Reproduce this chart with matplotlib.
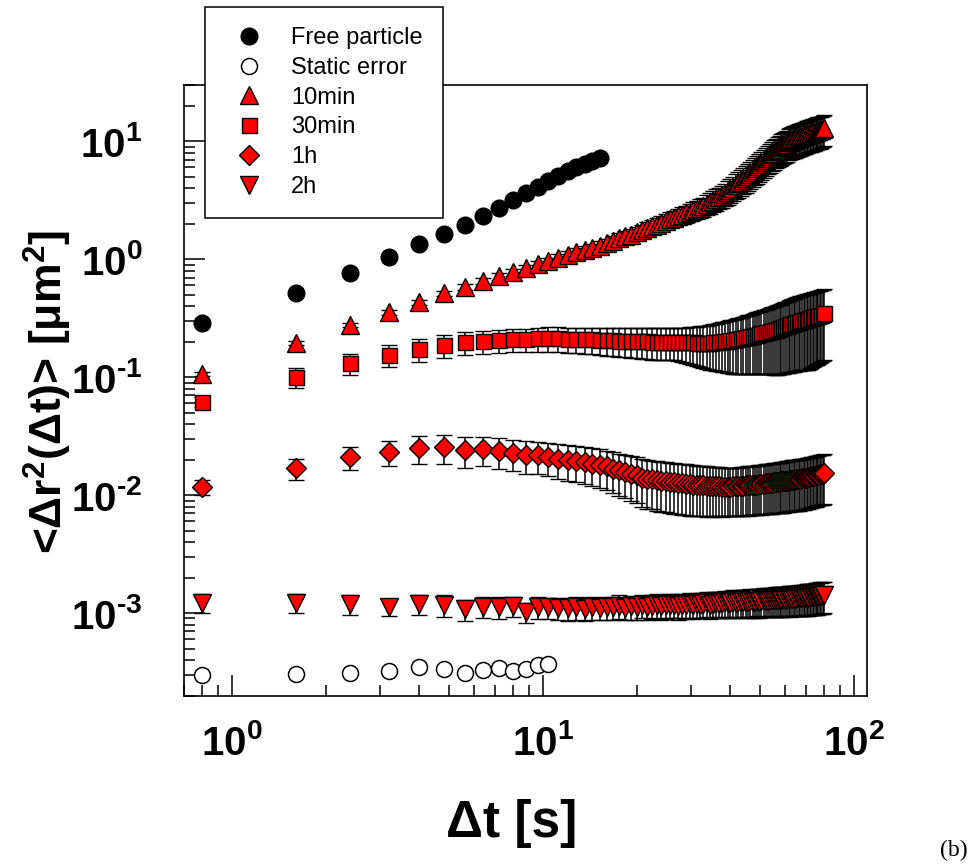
import math
import matplotlib
matplotlib.use('Agg')
import matplotlib.pyplot as plt
from matplotlib.lines import Line2D
from matplotlib.ticker import LogLocator, NullFormatter, FuncFormatter

plt.rcParams['font.family'] = ['Liberation Sans', 'DejaVu Sans']
plt.rcParams['font.weight'] = 'bold'
plt.rcParams['axes.labelweight'] = 'bold'
plt.rcParams['mathtext.default'] = 'regular'
plt.rcParams['mathtext.fontset'] = 'custom'
plt.rcParams['mathtext.rm'] = 'Liberation Sans:bold'

# lag times (frame interval 0.8 s), in s
lagTimes = [0.8, 1.6, 2.4, 3.2, 4.0, 4.8, 5.6, 6.4, 7.2, 8.0,
            8.8, 9.6, 10.4, 11.2, 12.0, 12.8, 13.6, 14.4, 15.2, 16.0,
            16.8, 17.6, 18.4, 19.2, 20.0, 20.8, 21.6, 22.4, 23.2, 24.0,
            24.8, 25.6, 26.4, 27.2, 28.0, 28.8, 29.6, 30.4, 31.2, 32.0,
            32.8, 33.6, 34.4, 35.2, 36.0, 36.8, 37.6, 38.4, 39.2, 40.0,
            40.8, 41.6, 42.4, 43.2, 44.0, 44.8, 45.6, 46.4, 47.2, 48.0,
            48.8, 49.6, 50.4, 51.2, 52.0, 52.8, 53.6, 54.4, 55.2, 56.0,
            56.8, 57.6, 58.4, 59.2, 60.0, 60.8, 61.6, 62.4, 63.2, 64.0,
            64.8, 65.6, 66.4, 67.2, 68.0, 68.8, 69.6, 70.4, 71.2, 72.0,
            72.8, 73.6, 74.4, 75.2, 76.0, 76.8, 77.6, 78.4, 79.2, 80.0]

# MSD in um^2
freeParticle = [0.287, 0.515, 0.76, 1.04, 1.34, 1.63, 1.94, 2.32, 2.70, 3.16,
                3.62, 4.07, 4.58, 5.05, 5.57, 6.02, 6.38, 6.77, 7.2]

staticError = [2.98e-4, 3.03e-4, 3.08e-4, 3.24e-4, 3.51e-4, 3.33e-4, 3.12e-4,
               3.29e-4, 3.42e-4, 3.21e-4, 3.37e-4, 3.62e-4, 3.70e-4]

msd10min = [0.106, 0.194, 0.276, 0.356, 0.433, 0.515, 0.580, 0.652, 0.718, 0.777,
            0.840, 0.908, 0.962, 1.02, 1.08, 1.15, 1.19, 1.24, 1.30, 1.37,
            1.43, 1.50, 1.56, 1.62, 1.69, 1.76, 1.83, 1.90, 1.97, 2.04,
            2.11, 2.18, 2.25, 2.31, 2.38, 2.45, 2.53, 2.60, 2.66, 2.74,
            2.81, 2.92, 3.03, 3.13, 3.24, 3.35, 3.45, 3.59, 3.74, 3.90,
            4.05, 4.22, 4.39, 4.55, 4.74, 4.92, 5.12, 5.31, 5.52, 5.73,
            5.94, 6.19, 6.43, 6.68, 6.95, 7.21, 7.50, 7.75, 8.00, 8.21,
            8.44, 8.65, 8.87, 9.10, 9.31, 9.54, 9.77, 10.0, 10.1, 10.3,
            10.4, 10.5, 10.7, 10.8, 10.9, 11.1, 11.2, 11.4, 11.5, 11.6,
            11.7, 11.8, 11.9, 12.1, 12.2, 12.3, 12.4, 12.5, 12.7, 12.9]
err10min = [0.004, 0.008, 0.012, 0.017, 0.022, 0.028, 0.033, 0.039, 0.045, 0.051,
            0.057, 0.064, 0.070, 0.077, 0.085, 0.094, 0.101, 0.109, 0.118, 0.128,
            0.143, 0.155, 0.165, 0.178, 0.191, 0.204, 0.220, 0.238, 0.256, 0.275,
            0.295, 0.316, 0.338, 0.358, 0.381, 0.404, 0.430, 0.455, 0.479, 0.501,
            0.525, 0.555, 0.591, 0.626, 0.664, 0.704, 0.742, 0.790, 0.842, 0.897,
            0.952, 1.01, 1.08, 1.14, 1.19, 1.25, 1.31, 1.37, 1.44, 1.50,
            1.57, 1.65, 1.72, 1.80, 1.89, 1.98, 2.07, 2.15, 2.24, 2.32,
            2.40, 2.47, 2.55, 2.64, 2.72, 2.80, 2.89, 2.98, 3.03, 3.09,
            3.12, 3.15, 3.21, 3.24, 3.27, 3.33, 3.36, 3.42, 3.45, 3.48,
            3.51, 3.54, 3.57, 3.63, 3.66, 3.69, 3.72, 3.70, 3.70, 3.74]

msd30min = [0.0614, 0.100, 0.131, 0.154, 0.173, 0.187, 0.198, 0.202, 0.206, 0.210,
            0.210, 0.213, 0.214, 0.213, 0.212, 0.211, 0.210, 0.209, 0.208, 0.206,
            0.205, 0.204, 0.204, 0.203, 0.202, 0.201, 0.201, 0.200, 0.200, 0.199,
            0.199, 0.199, 0.199, 0.199, 0.198, 0.198, 0.197, 0.197, 0.196, 0.196,
            0.195, 0.195, 0.196, 0.197, 0.198, 0.200, 0.201, 0.203, 0.204, 0.206,
            0.207, 0.209, 0.211, 0.213, 0.215, 0.218, 0.220, 0.223, 0.225, 0.228,
            0.230, 0.233, 0.235, 0.238, 0.240, 0.243, 0.245, 0.248, 0.250, 0.253,
            0.256, 0.260, 0.263, 0.266, 0.270, 0.273, 0.276, 0.280, 0.283, 0.286,
            0.290, 0.293, 0.296, 0.300, 0.303, 0.306, 0.308, 0.310, 0.312, 0.315,
            0.318, 0.321, 0.324, 0.327, 0.330, 0.333, 0.336, 0.340, 0.344, 0.350]
err30min = [0.006, 0.019, 0.026, 0.032, 0.038, 0.041, 0.045, 0.046, 0.047, 0.048,
            0.048, 0.049, 0.050, 0.051, 0.051, 0.052, 0.053, 0.053, 0.054, 0.055,
            0.055, 0.056, 0.056, 0.057, 0.057, 0.058, 0.058, 0.059, 0.059, 0.060,
            0.060, 0.060, 0.060, 0.061, 0.063, 0.065, 0.067, 0.069, 0.071, 0.073,
            0.076, 0.078, 0.080, 0.083, 0.085, 0.088, 0.090, 0.093, 0.095, 0.098,
            0.100, 0.102, 0.104, 0.106, 0.109, 0.111, 0.114, 0.116, 0.119, 0.121,
            0.124, 0.126, 0.129, 0.131, 0.134, 0.137, 0.139, 0.142, 0.145, 0.148,
            0.151, 0.153, 0.156, 0.159, 0.162, 0.164, 0.167, 0.170, 0.173, 0.175,
            0.178, 0.181, 0.184, 0.186, 0.189, 0.191, 0.193, 0.195, 0.196, 0.197,
            0.198, 0.199, 0.200, 0.201, 0.202, 0.204, 0.205, 0.206, 0.208, 0.210]

msd1h = [0.0117, 0.0169, 0.0210, 0.0231, 0.0250, 0.0255, 0.0241, 0.0245, 0.0236, 0.0227,
         0.0218, 0.0218, 0.0210, 0.0204, 0.0199, 0.0195, 0.0190, 0.0185, 0.0180, 0.0175,
         0.0168, 0.0162, 0.0157, 0.0152, 0.0147, 0.0140, 0.0138, 0.0136, 0.0134, 0.0132,
         0.0131, 0.0129, 0.0128, 0.0127, 0.0126, 0.0125, 0.0124, 0.0123, 0.0122, 0.0121,
         0.0121, 0.0120, 0.0120, 0.0119, 0.0119, 0.0119, 0.0118, 0.0118, 0.0118, 0.0118,
         0.0119, 0.0119, 0.0119, 0.0120, 0.0120, 0.0121, 0.0121, 0.0122, 0.0122, 0.0123,
         0.0123, 0.0124, 0.0124, 0.0125, 0.0126, 0.0126, 0.0127, 0.0127, 0.0128, 0.0129,
         0.0129, 0.0130, 0.0131, 0.0131, 0.0132, 0.0133, 0.0133, 0.0134, 0.0135, 0.0135,
         0.0136, 0.0137, 0.0137, 0.0138, 0.0139, 0.0139, 0.0140, 0.0141, 0.0142, 0.0143,
         0.0144, 0.0145, 0.0146, 0.0147, 0.0148, 0.0149, 0.0150, 0.0151, 0.0152, 0.0153]
err1h = [0.0017, 0.0035, 0.0048, 0.0055, 0.0065, 0.0070, 0.0070, 0.0068, 0.0068, 0.0067,
         0.0067, 0.0066, 0.0066, 0.0066, 0.0066, 0.0066, 0.0065, 0.0065, 0.0065, 0.0064,
         0.0064, 0.0063, 0.0063, 0.0062, 0.0062, 0.0061, 0.0061, 0.0060, 0.0060, 0.0060,
         0.0059, 0.0059, 0.0059, 0.0058, 0.0058, 0.0057, 0.0057, 0.0056, 0.0056, 0.0055,
         0.0055, 0.0055, 0.0054, 0.0054, 0.0053, 0.0053, 0.0053, 0.0052, 0.0052, 0.0052,
         0.0052, 0.0052, 0.0052, 0.0053, 0.0053, 0.0053, 0.0054, 0.0054, 0.0054, 0.0055,
         0.0055, 0.0055, 0.0056, 0.0056, 0.0057, 0.0057, 0.0058, 0.0058, 0.0058, 0.0059,
         0.0059, 0.0059, 0.0060, 0.0060, 0.0060, 0.0061, 0.0061, 0.0061, 0.0062, 0.0062,
         0.0062, 0.0063, 0.0063, 0.0063, 0.0064, 0.0064, 0.0064, 0.0065, 0.0065, 0.0065,
         0.0066, 0.0066, 0.0066, 0.0067, 0.0067, 0.0067, 0.0068, 0.0068, 0.0069, 0.0069]

msd2h = [0.00122, 0.00122, 0.00119, 0.00113, 0.00119, 0.00117, 0.00108, 0.00113, 0.00113, 0.00115,
         0.00102, 0.00113, 0.00112, 0.00111, 0.00110, 0.00112, 0.00109, 0.00113, 0.00111, 0.00113,
         0.00112, 0.00115, 0.00111, 0.00114, 0.00113, 0.00116, 0.00112, 0.00115, 0.00117, 0.00114,
         0.00116, 0.00118, 0.00117, 0.00115, 0.00118, 0.00116, 0.00119, 0.00117, 0.00120, 0.00118,
         0.00119, 0.00121, 0.00118, 0.00120, 0.00122, 0.00120, 0.00121, 0.00123, 0.00121, 0.00122,
         0.00124, 0.00122, 0.00124, 0.00123, 0.00125, 0.00123, 0.00124, 0.00126, 0.00124, 0.00125,
         0.00127, 0.00125, 0.00126, 0.00128, 0.00126, 0.00127, 0.00129, 0.00128, 0.00128, 0.00129,
         0.00130, 0.00129, 0.00130, 0.00131, 0.00130, 0.00131, 0.00132, 0.00131, 0.00132, 0.00133,
         0.00132, 0.00133, 0.00134, 0.00133, 0.00134, 0.00135, 0.00134, 0.00135, 0.00135, 0.00136,
         0.00136, 0.00137, 0.00137, 0.00138, 0.00138, 0.00139, 0.00140, 0.00140, 0.00141, 0.00142]
err2h = [0.00022, 0.00022, 0.00022, 0.00018, 0.00023, 0.00025, 0.00022, 0.00023, 0.00024, 0.00022,
         0.00020, 0.00024, 0.00023, 0.00024, 0.00024, 0.00024, 0.00023, 0.00025, 0.00024, 0.00025,
         0.00025, 0.00026, 0.00024, 0.00026, 0.00025, 0.00026, 0.00025, 0.00026, 0.00027, 0.00026,
         0.00027, 0.00027, 0.00027, 0.00027, 0.00028, 0.00027, 0.00028, 0.00028, 0.00029, 0.00028,
         0.00029, 0.00029, 0.00029, 0.00030, 0.00030, 0.00030, 0.00031, 0.00030, 0.00031, 0.00031,
         0.00032, 0.00031, 0.00032, 0.00032, 0.00032, 0.00033, 0.00032, 0.00033, 0.00033, 0.00034,
         0.00033, 0.00034, 0.00034, 0.00035, 0.00034, 0.00035, 0.00035, 0.00036, 0.00035, 0.00036,
         0.00036, 0.00036, 0.00037, 0.00036, 0.00037, 0.00037, 0.00037, 0.00038, 0.00037, 0.00038,
         0.00038, 0.00038, 0.00039, 0.00038, 0.00039, 0.00039, 0.00039, 0.00040, 0.00040, 0.00040,
         0.00040, 0.00041, 0.00040, 0.00041, 0.00041, 0.00041, 0.00042, 0.00041, 0.00042, 0.00042]

seriesLabels = ['Free particle', 'Static error', '10min', '30min', '1h', '2h']


def drawSeries(ax, y, yerr, marker, ms, zBase):
    # one point at a time so each error bar sits on top of the previous marker
    for i in range(len(y)):
        ax.errorbar(lagTimes[i], y[i], yerr=yerr[i], fmt=marker, ms=ms,
                    mfc='red', mec='black', mew=1.0, ecolor='black',
                    elinewidth=1.1, capsize=6, capthick=1.1,
                    zorder=zBase + 0.2 * i)


def powerLabel(value, pos):
    # 10^n with a plain hyphen for negative powers
    exponent = int(round(math.log10(value)))
    if exponent < 0:
        return r'$\mathdefault{10^{\text{-}%d}}$' % (-exponent)
    return r'$\mathdefault{10^{%d}}$' % exponent


fig = plt.figure(figsize=(9.78, 8.64), dpi=100)
ax = fig.add_axes([0.188, 0.1944, 0.6984, 0.7072])

ax.set_xscale('log')
ax.set_yscale('log')

ax.plot(lagTimes[:len(freeParticle)], freeParticle, 'o', ms=12,
        mfc='black', mec='black', zorder=3)
ax.plot(lagTimes[:len(staticError)], staticError, 'o', ms=11.5,
        mfc='white', mec='black', mew=1.1, zorder=3)

drawSeries(ax, msd10min, err10min, '^', 12.5, 3)
drawSeries(ax, msd30min, err30min, 's', 10.8, 3)
drawSeries(ax, msd1h, err1h, 'D', 9.7, 3)
drawSeries(ax, msd2h, err2h, 'v', 12.5, 3)

ax.set_xlim(0.70, 110)
ax.set_ylim(1.98e-4, 30)

for axis in [ax.xaxis, ax.yaxis]:
    axis.set_major_locator(LogLocator(base=10, numticks=20))
    axis.set_minor_locator(LogLocator(base=10, subs=range(2, 10), numticks=60))
    axis.set_major_formatter(FuncFormatter(powerLabel))
    axis.set_minor_formatter(NullFormatter())

ax.tick_params(which='both', direction='in', top=False, right=False, width=1.1)
ax.tick_params(which='major', length=15)
ax.tick_params(which='minor', length=8)
ax.tick_params(axis='y', which='major', labelsize=29, pad=30)
ax.tick_params(axis='x', which='major', labelsize=29, pad=20)

for side in ['left', 'right', 'top', 'bottom']:
    ax.spines[side].set_linewidth(1.2)

ax.set_xlabel('Δt [s]', fontsize=37, fontweight='bold')
ax.xaxis.set_label_coords(0.48, -0.168)
ax.set_ylabel('<Δr$^{2}$(Δt)> [μm$^{2}$]', fontsize=32, fontweight='bold')
ax.yaxis.set_label_coords(-0.161, 0.4975)

handles = [
    Line2D([], [], ls='none', marker='o', ms=12, mfc='black', mec='black'),
    Line2D([], [], ls='none', marker='o', ms=11.5, mfc='white', mec='black', mew=1.1),
    Line2D([], [], ls='none', marker='^', ms=12.5, mfc='red', mec='black', mew=1.0),
    Line2D([], [], ls='none', marker='s', ms=10.8, mfc='red', mec='black', mew=1.0),
    Line2D([], [], ls='none', marker='D', ms=9.7, mfc='red', mec='black', mew=1.0),
    Line2D([], [], ls='none', marker='v', ms=12.5, mfc='red', mec='black', mew=1.0),
]
leg = ax.legend(handles, seriesLabels, loc='upper left',
                bbox_to_anchor=(0.2096, 0.992), bbox_transform=fig.transFigure,
                borderaxespad=0, fancybox=False, edgecolor='black', framealpha=1,
                prop={'size': 17, 'weight': 'normal'}, borderpad=0.85,
                handlelength=2.03, handletextpad=0.76, labelspacing=0.33,
                numpoints=1)
leg.get_frame().set_linewidth(1.1)
leg.set_zorder(200)

fig.text(0.989, 0.004, '(b)', ha='right', va='bottom', fontsize=17,
         fontweight='normal', family='Liberation Serif')

fig.savefig('out.png', dpi=100)
